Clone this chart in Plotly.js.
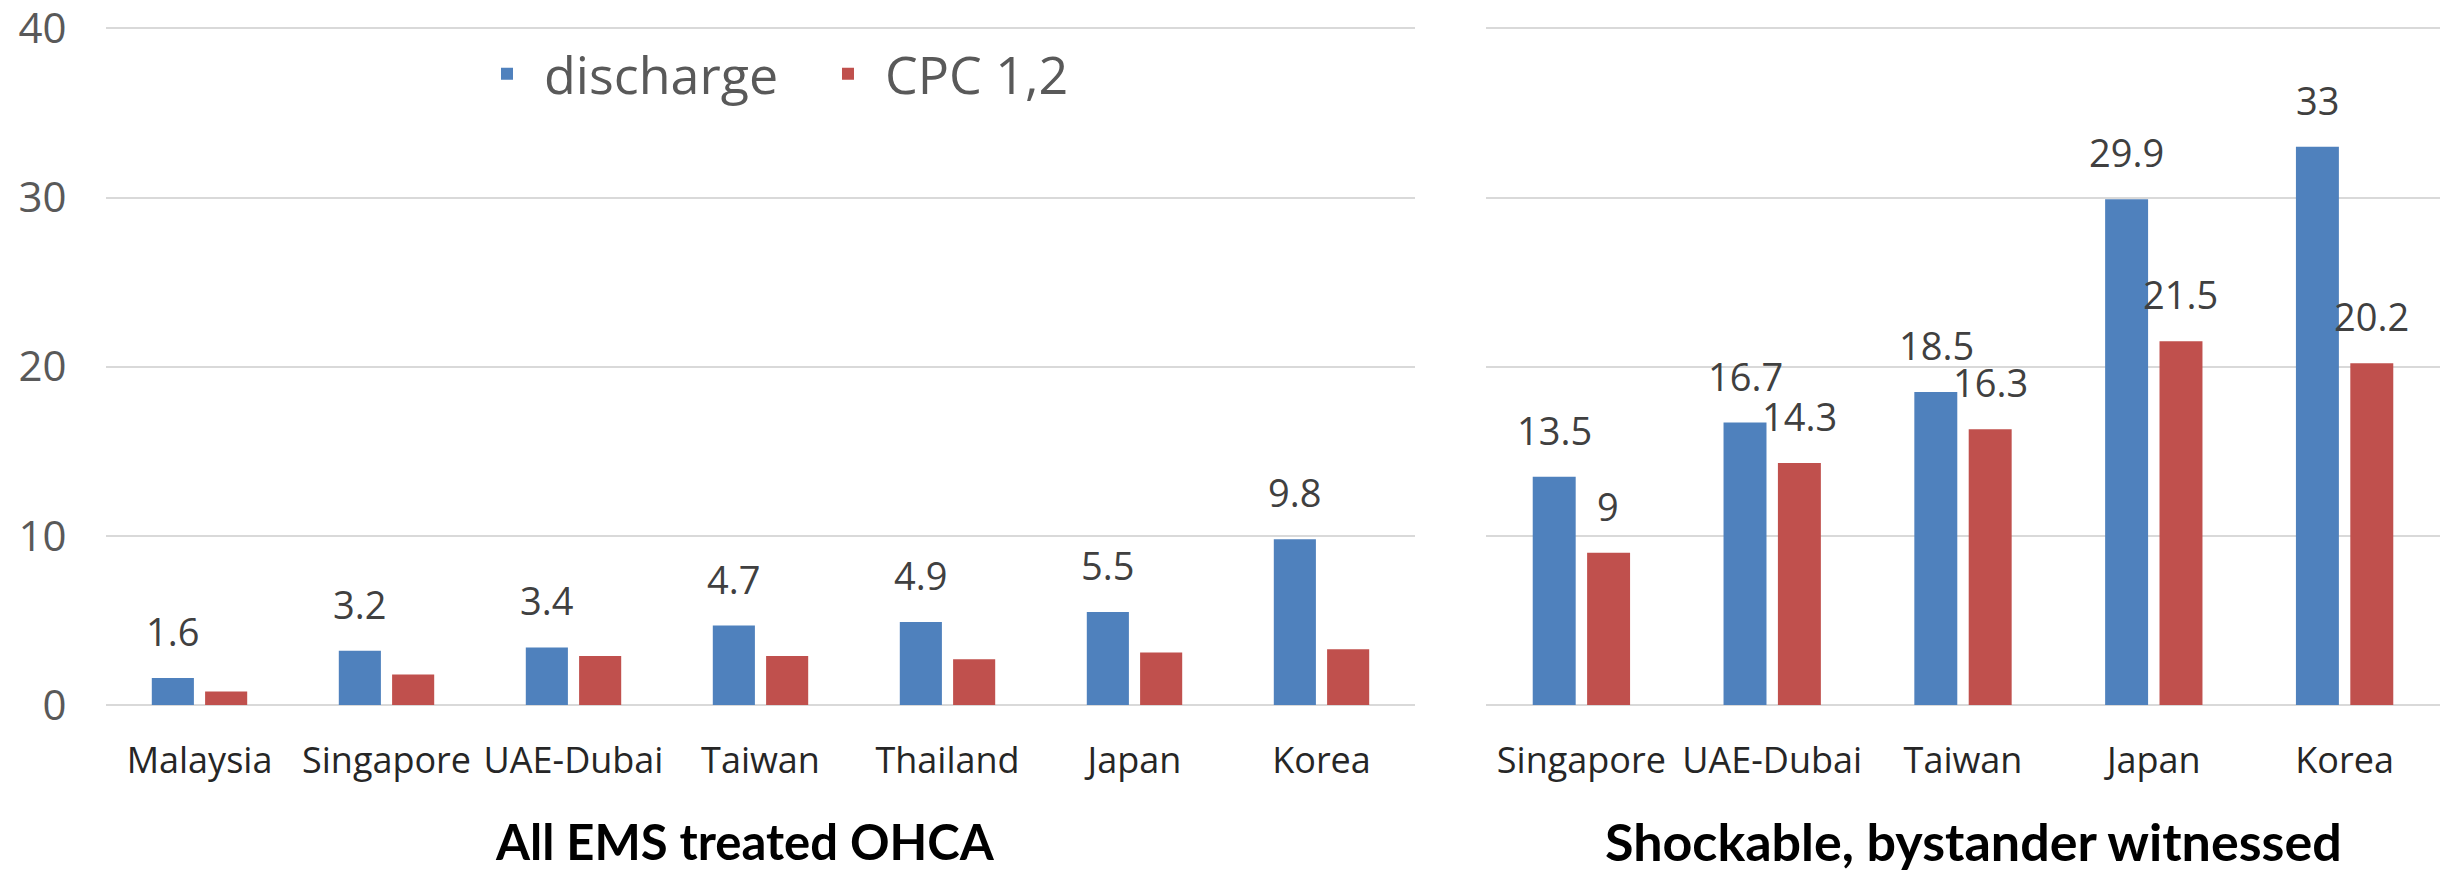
<!DOCTYPE html>
<html>
<head>
<meta charset="utf-8">
<script src="https://cdn.plot.ly/plotly-3.0.1.min.js"></script>
<style>
  html, body { margin: 0; padding: 0; background: #ffffff; }
  #chart { width: 2453px; height: 873px; }
</style>
</head>
<body>
<div id="chart"></div>
<script>
// ---- data ----
const categoriesAll = ['Malaysia', 'Singapore', 'UAE-Dubai', 'Taiwan', 'Thailand', 'Japan', 'Korea'];
const dischargeAll = [1.6, 3.2, 3.4, 4.7, 4.9, 5.5, 9.8];
const cpcAll = [0.8, 1.8, 2.9, 2.9, 2.7, 3.1, 3.3];

const categoriesShock = ['Singapore', 'UAE-Dubai', 'Taiwan', 'Japan', 'Korea'];
const dischargeShock = [13.5, 16.7, 18.5, 29.9, 33];
const cpcShock = [9, 14.3, 16.3, 21.5, 20.2];

const seriesNames = ['discharge', 'CPC 1,2'];
const panelTitles = ['All EMS treated OHCA', 'Shockable, bystander witnessed'];
const yTicks = [0, 10, 20, 30, 40];

// ---- styles ----
const BLUE = '#4F81BD';
const RED = '#C0504D';
const FONT = '"Open Sans", "Noto Sans", sans-serif';
const labelFont = { family: FONT, size: 38, color: '#404040' };

const traces = [
  {
    type: 'bar', name: seriesNames[0], legendgroup: 'd',
    x: categoriesAll, y: dischargeAll, xaxis: 'x', yaxis: 'y',
    marker: { color: BLUE }, hoverinfo: 'x+y'
  },
  {
    type: 'bar', name: seriesNames[1], legendgroup: 'c',
    x: categoriesAll, y: cpcAll, xaxis: 'x', yaxis: 'y',
    marker: { color: RED }, hoverinfo: 'x+y'
  },
  {
    type: 'bar', name: seriesNames[0], legendgroup: 'd', showlegend: false,
    x: categoriesShock, y: dischargeShock, xaxis: 'x2', yaxis: 'y2',
    marker: { color: BLUE }, hoverinfo: 'x+y'
  },
  {
    type: 'bar', name: seriesNames[1], legendgroup: 'c', showlegend: false,
    x: categoriesShock, y: cpcShock, xaxis: 'x2', yaxis: 'y2',
    marker: { color: RED }, hoverinfo: 'x+y'
  }
];

// value labels placed above bars, in data coordinates of each subplot
function valueLabels(cats, vals, xref, yref, side) {
  return cats.map((c, i) => ({
    text: String(vals[i]), x: c, y: vals[i], xref: xref, yref: yref,
    xshift: side * 27, yshift: 19,
    xanchor: 'center', yanchor: 'bottom', showarrow: false,
    font: labelFont
  }));
}

const xCommon = {
  type: 'category', showgrid: false, zeroline: false, showline: false,
  ticks: 'outside', ticklen: 24, tickcolor: 'rgba(0,0,0,0)',
  tickfont: { family: FONT, size: 36, color: '#262626' }, fixedrange: true
};
const yCommon = {
  range: [0, 40.2], autorange: false, tickvals: yTicks, showgrid: true, gridcolor: '#d9d9d9', gridwidth: 2,
  zeroline: true, zerolinecolor: '#d9d9d9', zerolinewidth: 2, showline: false, fixedrange: true
};

const layout = {
  width: 2453, height: 873,
  margin: { l: 0, r: 0, t: 25, b: 168, pad: 0 },
  paper_bgcolor: '#ffffff', plot_bgcolor: '#ffffff',
  barmode: 'group', bargap: 0.43, bargroupgap: 0.21,
  font: { family: FONT, color: '#595959' },
  showlegend: true,
  legend: {
    orientation: 'h', x: 0.1916, xanchor: 'left', y: 0.928, yanchor: 'middle',
    font: { family: FONT, size: 52, color: '#595959' },
    bgcolor: 'rgba(0,0,0,0)', itemwidth: 64, entrywidth: 262, entrywidthmode: 'pixels',
    traceorder: 'normal'
  },
  xaxis: Object.assign({}, xCommon, { domain: [106 / 2453, 1415 / 2453], anchor: 'y' }),
  xaxis2: Object.assign({}, xCommon, { domain: [1486 / 2453, 2440 / 2453], anchor: 'y2' }),
  yaxis: Object.assign({}, yCommon, {
    anchor: 'x', showticklabels: true, ticklabeloverflow: 'allow',
    ticks: 'outside', ticklen: 30, tickcolor: 'rgba(0,0,0,0)',
    tickfont: { family: FONT, size: 42, color: '#595959' }
  }),
  yaxis2: Object.assign({}, yCommon, { anchor: 'x2', showticklabels: false }),
  annotations: [].concat(
    valueLabels(categoriesAll, dischargeAll, 'x', 'y', -1),
    valueLabels(categoriesShock, dischargeShock, 'x2', 'y2', -1),
    valueLabels(categoriesShock, cpcShock, 'x2', 'y2', 1),
    [
      {
        text: panelTitles[0], xref: 'paper', yref: 'paper',
        x: 745 / 2453, y: -0.2, xanchor: 'center', yanchor: 'middle', showarrow: false,
        font: { family: 'Lato, "Liberation Sans", sans-serif', size: 49, color: '#000000', weight: 'bold' }
      },
      {
        text: panelTitles[1], xref: 'paper', yref: 'paper',
        x: 1973 / 2453, y: -0.2, xanchor: 'center', yanchor: 'middle', showarrow: false,
        font: { family: 'Lato, "Liberation Sans", sans-serif', size: 52, color: '#000000', weight: 'bold' }
      }
    ]
  )
};

Plotly.newPlot('chart', traces, layout, { displayModeBar: false, staticPlot: true });
</script>
</body>
</html>
